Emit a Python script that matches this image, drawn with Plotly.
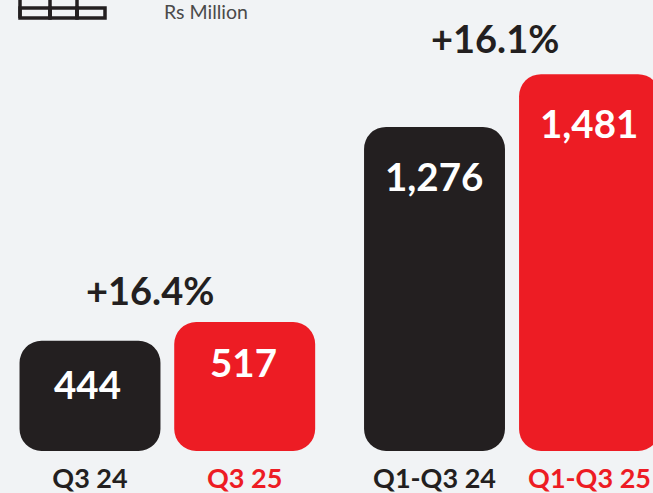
import plotly.graph_objects as go

categories = ["Q3 24", "Q3 25", "Q1-Q3 24", "Q1-Q3 25"]
values = [444, 517, 1276, 1481]
value_labels = ["444", "517", "1,276", "1,481"]
positions = [0, 1, 2.227, 3.229]
bar_colors = ["#231f20", "#ed1c24", "#231f20", "#ed1c24"]
label_shift = [-43, -40, -49, -49]
label_xshift = [-3, -1, -1, -1]
growth_labels = ["+16.4%", "+16.1%"]
growth_x = [0.388, 2.62]
growth_y = [517, 1481]
growth_shift = [32, 36]
unit_label = "Rs Million"

FONT = "Lato, Carlito, 'Open Sans', sans-serif"
W, H, BOTTOM = 653, 493, 42
PLOT_H = H - BOTTOM
FLOOR, TOP = 15.8, 1769.3

fig = go.Figure()
fig.add_trace(go.Bar(x=positions, y=[v - FLOOR for v in values], base=FLOOR,
                     width=0.911, marker=dict(color=bar_colors, line_width=0),
                     showlegend=False, hoverinfo="skip"))

ann = []
for x, v, t, s, xs in zip(positions, values, value_labels, label_shift, label_xshift):
    ann.append(dict(x=x, y=v, text=f"<b>{t}</b>", showarrow=False, yshift=s, xshift=xs, yanchor="middle",
                    font=dict(family=FONT, size=38.5, color="white")))
for x, y, t, s in zip(growth_x, growth_y, growth_labels, growth_shift):
    ann.append(dict(x=x, y=y, text=f"<b>{t}</b>", showarrow=False, yshift=s, yanchor="middle",
                    font=dict(family=FONT, size=38, color="#231f20")))
ann.append(dict(xref="paper", yref="paper", x=162 / W, y=1 - 11 / PLOT_H, text=unit_label,
                showarrow=False, xanchor="left", yanchor="middle",
                font=dict(family=FONT, size=19.5, color="#4a4a4a")))


def px(x):
    return x / W


def py(y):
    return 1 - y / PLOT_H


icon = [(20, 50), (50, 77), (77, 105)]
shapes = []
for x0, x1 in icon:
    shapes.append(dict(type="rect", xref="paper", yref="paper", x0=px(x0), x1=px(x1),
                       y0=py(18), y1=py(8), line=dict(color="#231f20", width=3.5)))
    shapes.append(dict(type="line", xref="paper", yref="paper", x0=px(x0), x1=px(x0),
                       y0=py(18), y1=py(-2), line=dict(color="#231f20", width=3.5)))

fig.update_layout(
    width=W, height=H, margin=dict(l=0, r=0, t=0, b=BOTTOM), autosize=False,
    barcornerradius=22,
    paper_bgcolor="#f1f3f5", plot_bgcolor="#f1f3f5",
    annotations=ann, shapes=shapes,
    xaxis=dict(range=[-90 / 154.7, (W - 90) / 154.7], tickmode="array", tickvals=positions,
               ticktext=[f'<b><span style="color:{c}">{n}</span></b>'
                         for n, c in zip(categories, bar_colors)],
               showgrid=False, zeroline=False, showline=False, ticks="", automargin=False,
               tickangle=0, ticklabelstandoff=9,
               tickfont=dict(family=FONT, size=27, color="#231f20")),
    yaxis=dict(range=[FLOOR, TOP], visible=False),
)
fig.write_html("out.html", config={"displayModeBar": False},
               post_script="document.body.style.margin='0';document.documentElement.style.background='#f1f3f5';")
